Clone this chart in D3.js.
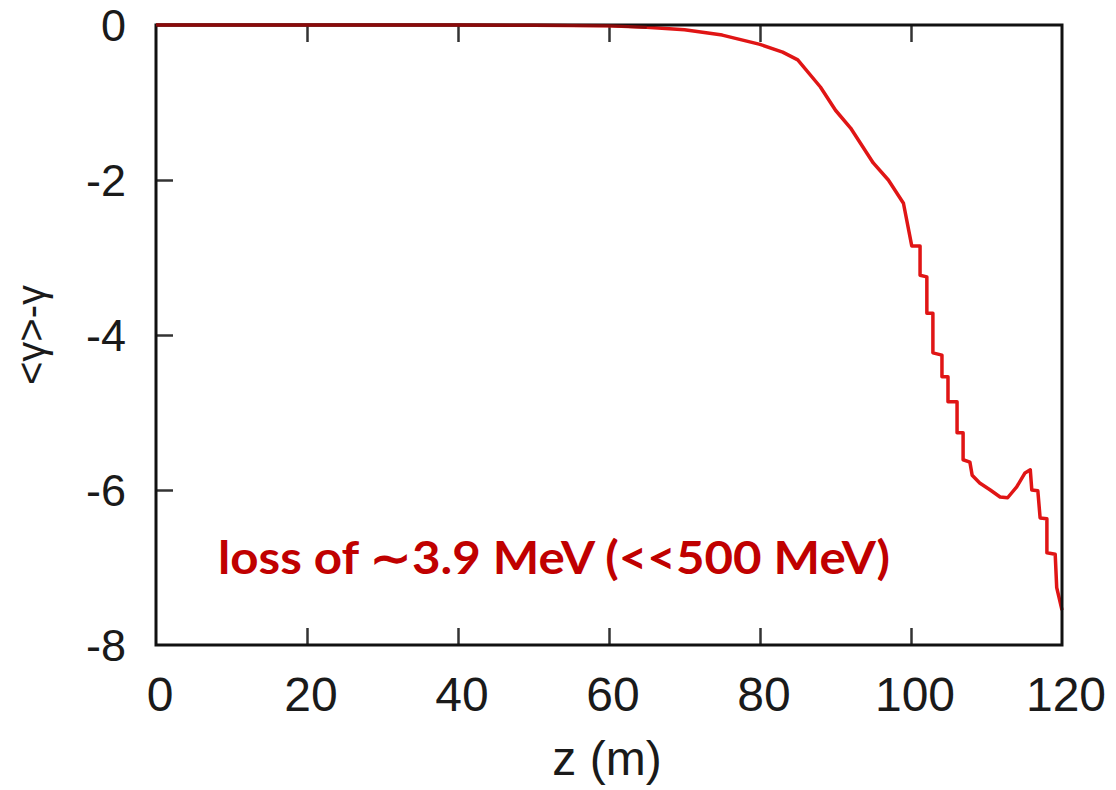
<!DOCTYPE html>
<html>
<head>
<meta charset="utf-8">
<script src="https://cdn.jsdelivr.net/npm/d3@7"></script>
<style>
  html, body { margin: 0; padding: 0; background: #fff; }
  svg { display: block; }
</style>
</head>
<body>
<div id="chart"></div>
<script>
// ============================================================================
// data
// ============================================================================

// z position along the undulator, in m
const zValues = [0, 10, 20, 30, 40, 50, 60, 65, 70, 75, 80, 83, 85, 88, 90, 92, 95, 97, 99, 100.1,
    101.2, 101.2, 102.1, 102.1, 102.9, 102.9, 104.1, 104.1, 104.9, 104.9, 106.1, 106.1, 106.9, 106.9,
    107.8, 108.1, 109.1, 110.5, 111.8, 112.8, 114.0, 115.1, 115.8, 116.0, 116.8, 117.1, 118.0, 118.0,
    119.1, 119.3, 120];

// mean energy change <gamma>-gamma
const dGamma = [0, 0, 0, 0, 0, -0.003, -0.01, -0.03, -0.06, -0.13, -0.25, -0.35, -0.45, -0.8, -1.1, -1.33, -1.78, -2.0, -2.3, -2.85,
    -2.85, -3.23, -3.25, -3.72, -3.72, -4.23, -4.26, -4.54, -4.54, -4.86, -4.86, -5.26, -5.26, -5.61,
    -5.64, -5.81, -5.91, -6.0, -6.09, -6.10, -5.96, -5.78, -5.74, -6.0, -6.01, -6.36, -6.37, -6.81,
    -6.83, -7.26, -7.55];

const xTicks = [0, 20, 40, 60, 80, 100, 120];
const yTicks = [0, -2, -4, -6, -8];

const xLabel = "z (m)";
const yLabel = "<γ>-γ";
const note = "loss of \u223C3.9 MeV (<<500 MeV)";

// ============================================================================
// drawing
// ============================================================================

const width = 1116, height = 790;
const margin = { top: 25, right: 54, bottom: 145, left: 156 };
const plotW = width - margin.left - margin.right;
const plotH = height - margin.top - margin.bottom;

const svg = d3.select("#chart").append("svg")
    .attr("width", width)
    .attr("height", height);

const x = d3.scaleLinear().domain([0, 120]).range([margin.left, margin.left + plotW]);
const y = d3.scaleLinear().domain([-8, 0]).range([margin.top + plotH, margin.top]);

const inner = xTicks.filter(t => t > 0 && t < 120);
const innerY = yTicks.filter(t => t < 0 && t > -8);

// inward ticks on bottom and top
svg.append("g")
    .attr("transform", `translate(0,${y(-8)})`)
    .call(d3.axisBottom(x).tickValues(inner).tickSize(-17).tickFormat(""))
    .call(g => g.select(".domain").remove())
    .call(g => g.selectAll("line").attr("stroke", "#333").attr("stroke-width", 2.5));

svg.append("g")
    .attr("transform", `translate(0,${y(0)})`)
    .call(d3.axisTop(x).tickValues(inner).tickSize(-17).tickFormat(""))
    .call(g => g.select(".domain").remove())
    .call(g => g.selectAll("line").attr("stroke", "#333").attr("stroke-width", 2.5));

// inward ticks on the left
svg.append("g")
    .attr("transform", `translate(${x(0)},0)`)
    .call(d3.axisLeft(y).tickValues(innerY).tickSize(-17).tickFormat(""))
    .call(g => g.select(".domain").remove())
    .call(g => g.selectAll("line").attr("stroke", "#333").attr("stroke-width", 2.5));

// tick labels
svg.append("g").selectAll("text")
    .data(xTicks)
    .join("text")
    .attr("x", d => x(d) + 4)
    .attr("y", 711)
    .attr("text-anchor", "middle")
    .attr("font-family", "Liberation Sans, Arial, sans-serif")
    .attr("font-size", 48)
    .attr("fill", "#1a1a1a")
    .text(d => d);

svg.append("g").selectAll("text")
    .data(yTicks)
    .join("text")
    .attr("x", 126)
    .attr("y", d => y(d) + 16)
    .attr("text-anchor", "end")
    .attr("font-family", "Liberation Sans, Arial, sans-serif")
    .attr("font-size", 45)
    .attr("fill", "#1a1a1a")
    .text(d => d);

// axis titles
svg.append("text")
    .attr("x", x(60) - 2)
    .attr("y", 775)
    .attr("text-anchor", "middle")
    .attr("font-family", "Liberation Sans, Arial, sans-serif")
    .attr("font-size", 48)
    .attr("fill", "#1a1a1a")
    .text(xLabel);

svg.append("text")
    .attr("transform", `translate(45,${y(-4)}) rotate(-90)`)
    .attr("text-anchor", "middle")
    .attr("font-family", "Liberation Sans, Arial, sans-serif")
    .attr("font-size", 40)
    .attr("fill", "#1a1a1a")
    .text(yLabel);

// the curve
const line = d3.line()
    .x((d, i) => x(zValues[i]))
    .y(d => y(d));

svg.append("path")
    .datum(dGamma)
    .attr("fill", "none")
    .attr("stroke", "#e01515")
    .attr("stroke-width", 3.5)
    .attr("stroke-linejoin", "round")
    .attr("d", line);

// frame
svg.append("rect")
    .attr("x", x(0))
    .attr("y", y(0))
    .attr("width", plotW)
    .attr("height", plotH)
    .attr("fill", "none")
    .attr("stroke", "#111")
    .attr("stroke-width", 3);

// redraw the flat part of the curve over the top edge
svg.append("path")
    .datum(dGamma.slice(0, 8))
    .attr("fill", "none")
    .attr("stroke", "#8a0a0a")
    .attr("stroke-width", 3)
    .attr("d", d3.line().x((d, i) => x(zValues[i])).y(d => y(d)));

// annotation
svg.append("text")
    .attr("x", 218)
    .attr("y", 574)
    .attr("font-family", "Lato, 'Open Sans', sans-serif")
    .attr("font-weight", "bold")
    .attr("font-size", 46)
    .attr("fill", "#c00000")
    .attr("textLength", 672)
    .attr("lengthAdjust", "spacingAndGlyphs")
    .text(note);
</script>
</body>
</html>
